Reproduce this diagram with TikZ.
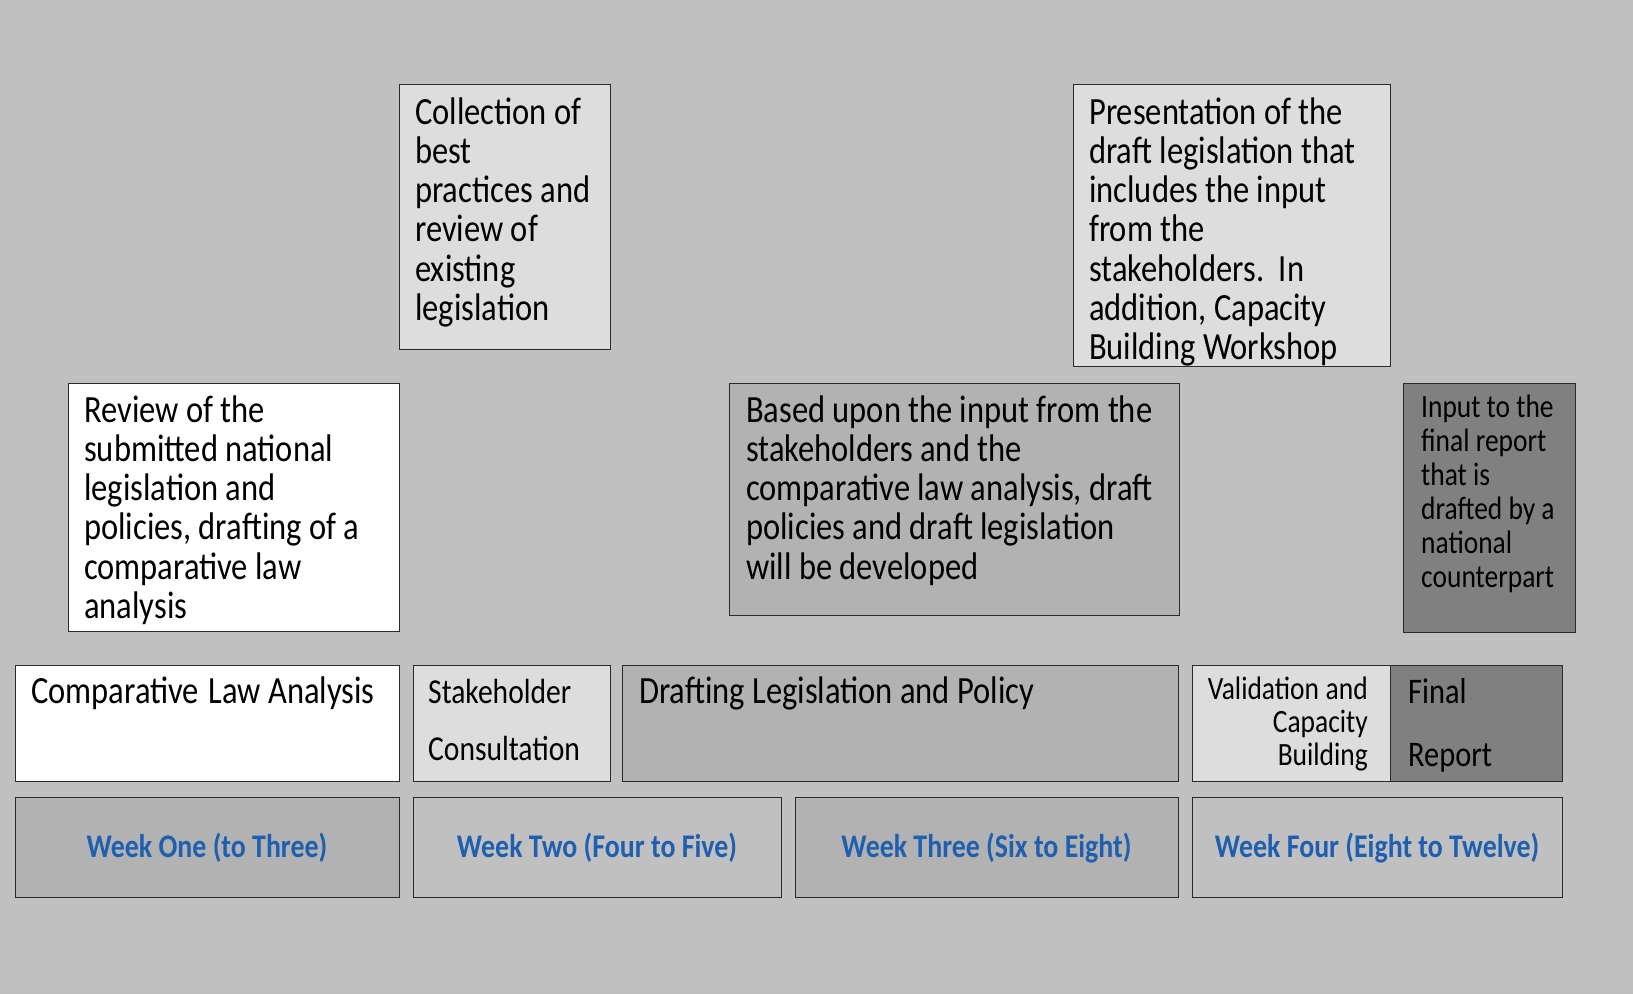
\documentclass[tikz,border=0pt]{standalone}
\usepackage{fontspec}
\setmainfont{Carlito}[FakeStretch=0.845]
\definecolor{bgc}{HTML}{C0C0C0}
\definecolor{lgray}{HTML}{DDDDDD}
\definecolor{mgray}{HTML}{B2B2B2}
\definecolor{dgray}{HTML}{808080}
\definecolor{bord}{HTML}{2A2A2A}
\definecolor{wblue}{HTML}{1F5FAF}
\newcommand\tsp{\spaceskip=0.19em plus 0.05em minus 0.02em\relax}
\begin{document}
\begin{tikzpicture}[x=1pt,y=-1pt,
  box/.style={draw=bord, line width=1.4pt, inner sep=0pt, anchor=north west},
  txt/.style={inner sep=0pt, anchor=base west, align=left, text width=#1},
  big/.style={font=\fontsize{38.5}{39.3}\selectfont},
  wk/.style={inner sep=0pt, anchor=base, text=wblue, font=\bfseries\fontsize{33}{38}\selectfont}]
\fill[bgc] (0,0) rectangle (1633,994);
\useasboundingbox (0,0) rectangle (1633,994);
% upper boxes
\node[box, fill=lgray, minimum width=211pt, minimum height=265pt] (coll) at (399,84) {};
\node[box, fill=lgray, minimum width=317pt, minimum height=282pt] (pres) at (1073,84) {};
\node[box, fill=white, minimum width=331pt, minimum height=248pt] (rev) at (68,383) {};
\node[box, fill=mgray, minimum width=450pt, minimum height=232pt] (based) at (729,383) {};
\node[box, fill=dgray, minimum width=172pt, minimum height=249pt] (inp) at (1403,383) {};
% phase row
\node[box, fill=white, minimum width=384pt, minimum height=116pt] (cla) at (15,665) {};
\node[box, fill=lgray, minimum width=197pt, minimum height=116pt] (stk) at (413,665) {};
\node[box, fill=mgray, minimum width=556pt, minimum height=116pt] (dft) at (622,665) {};
\node[box, fill=lgray, minimum width=198pt, minimum height=116pt] (val) at (1192,665) {};
\node[box, fill=dgray, minimum width=172pt, minimum height=116pt] (fin) at (1390,665) {};
% week row
\node[box, fill=mgray, minimum width=384pt, minimum height=100pt] (w1) at (15,797) {};
\node[box, fill=bgc, minimum width=368pt, minimum height=100pt] (w2) at (413,797) {};
\node[box, fill=mgray, minimum width=383pt, minimum height=100pt] (w3) at (795,797) {};
\node[box, fill=bgc, minimum width=370pt, minimum height=100pt] (w4) at (1192,797) {};
% texts
\node[txt=200pt, big] (collt) at (415,124) {\tsp Collection of\\best\\practices and\\review of\\existing\\legislation};
\node[txt=300pt, big] (prest) at (1089,124) {\tsp Presentation of the\\draft legislation that\\includes the input\\from the\\stakeholders.\ \ In\\addition, Capacity\\Building Workshop};
\node[txt=320pt, big] (revt) at (84,422) {\tsp Review of the\\submitted national\\legislation and\\policies, drafting of a\\comparative law\\analysis};
\node[txt=440pt, big] (basedt) at (746,422) {\tsp Based upon the input from the\\stakeholders and the\\comparative law analysis, draft\\policies and draft legislation\\will be developed};
\node[txt=160pt, font=\fontsize{32.5}{34}\selectfont] (inpt) at (1421,417) {\tsp Input to the\\final report\\that is\\drafted by a\\national\\counterpart};
\node[txt=380pt, big] (clat) at (31,703) {\tsp Comparative\hspace{0.06em} Law Analysis};
\node[txt=190pt, font=\fontsize{35}{57}\selectfont] (stkt) at (428,703) {\tsp Stakeholder\\Consultation};
\node[txt=540pt, big] (dftt) at (639,703) {\tsp Drafting Legislation and Policy};
\node[inner sep=0pt, anchor=base east, align=right, text width=180pt, font=\fontsize{32.5}{33.3}\selectfont] (valt) at (1368,699) {\tsp Validation and\\Capacity\\Building};
\node[txt=150pt, font=\fontsize{36}{63}\selectfont] (fint) at (1408,703) {\tsp Final\\Report};
\node[wk] (w1t) at (207,857) {Week One (to Three)};
\node[wk] (w2t) at (597,857) {Week Two (Four to Five)};
\node[wk] (w3t) at (986.5,857) {Week Three (Six to Eight)};
\node[wk] (w4t) at (1377,857) {Week Four (Eight to Twelve)};
\end{tikzpicture}
\end{document}
